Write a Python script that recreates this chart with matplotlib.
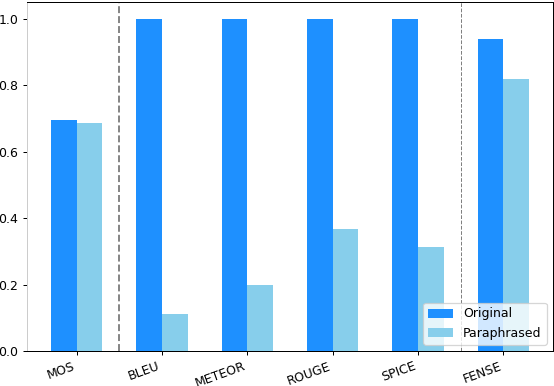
import matplotlib
matplotlib.use("Agg")
import matplotlib.pyplot as plt
import numpy as np

categories = ["MOS", "BLEU", "METEOR", "ROUGE", "SPICE", "FENSE"]
original = [0.694, 1.0, 1.0, 1.0, 1.0, 0.940]
paraphrased = [0.686, 0.112, 0.199, 0.367, 0.313, 0.817]

DPI = 90
fig = plt.figure(figsize=(554/DPI, 386/DPI), dpi=DPI)
ax = fig.add_axes([27/554, 35/386, 526/554, 349/386])

x = np.arange(len(categories))
w = 0.3
ax.bar(x - w/2, original, w, color="#1E90FF", label="Original")
ax.bar(x + w/2, paraphrased, w, color="#87CEEB", label="Paraphrased")

ax.axvline(0.5, color="gray", linestyle="--", linewidth=1.5)
ax.axvline(4.5, color="gray", linestyle="--", linewidth=0.8)

ax.set_xticks(x)
ax.set_xticklabels(categories, rotation=20, ha="right")
ax.spines["left"].set_color("#cccccc")
ax.legend(loc="lower right")

fig.savefig("out.png", dpi=DPI)
